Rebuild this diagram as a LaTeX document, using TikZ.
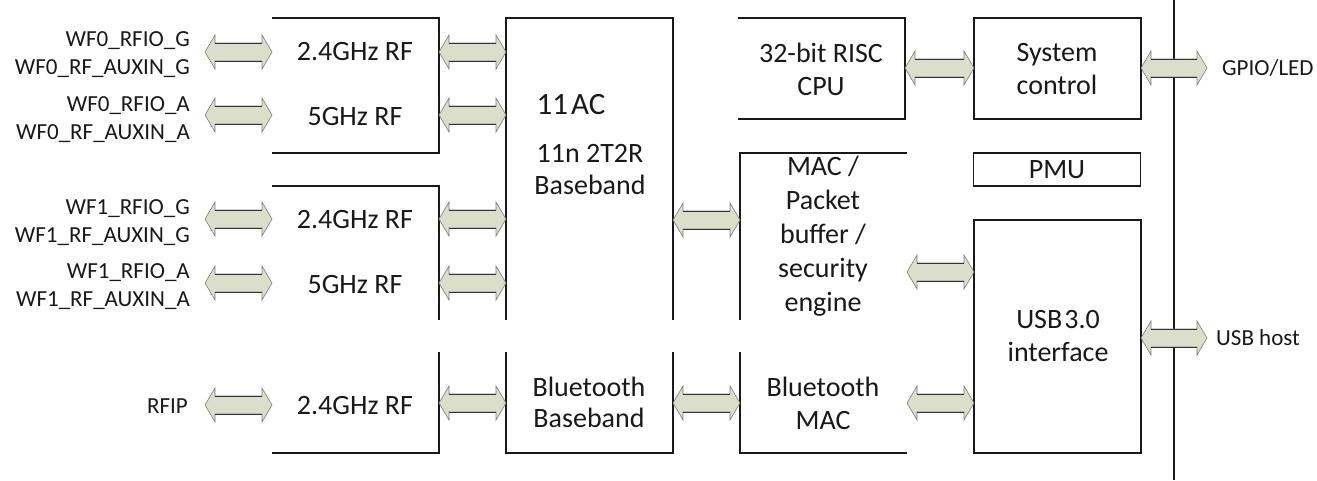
\documentclass[tikz,border=0pt]{standalone}
\usepackage{fontspec}
\setmainfont{Carlito}
\usetikzlibrary{calc}
\definecolor{arrfill}{RGB}{218,222,203}
\definecolor{arrhead}{RGB}{125,125,115}
\definecolor{ink}{RGB}{25,25,25}
\tikzset{
  frame/.style={inner sep=0pt, outer sep=0pt, draw=none},
  edge/.style={draw=ink, line width=1.2pt},
  boxtxt/.style={inner sep=0pt, align=center, text=ink, font=\fontsize{28}{33}\selectfont},
  smalltxt/.style={inner sep=0pt, text=ink, font=\fontsize{23}{28}\selectfont},
}
\newcommand\barr[3]{%
  \fill[arrfill, draw=arrhead, line width=0.6pt] let \p1=(#1), \p2=(#2), \p3=(0,#3) in
    (\x1,\y3) -- ({\x1+10pt},{\y3+17pt}) -- ({\x1+10pt},{\y3+9pt}) -- ({\x2-10pt},{\y3+9pt})
    -- ({\x2-10pt},{\y3+17pt}) -- (\x2,\y3) -- ({\x2-10pt},{\y3-17pt}) -- ({\x2-10pt},{\y3-9pt})
    -- ({\x1+10pt},{\y3-9pt}) -- ({\x1+10pt},{\y3-17pt}) -- cycle;
  \draw[black!80, line width=1pt] let \p1=(#1), \p2=(#2), \p3=(0,#3) in
    ({\x1+10pt},{\y3+9pt}) -- ({\x2-10pt},{\y3+9pt})
    ({\x1+10pt},{\y3-9pt}) -- ({\x2-10pt},{\y3-9pt});
}
\begin{document}
\begin{tikzpicture}[x=1pt, y=-1pt]
\useasboundingbox (0,0) rectangle (1317,480);
\fill[white] (0,0) rectangle (1317,480);

% box frames (invisible nodes)
\node[frame, minimum width=167pt, minimum height=135pt] (rf1) at (355.5,85.5) {};
\node[frame, minimum width=167pt, minimum height=134pt] (rf2) at (355.5,253) {};
\node[frame, minimum width=167pt, minimum height=101pt] (rf3) at (355.5,402.5) {};
\node[frame, minimum width=167pt, minimum height=302pt] (bb) at (589.5,169) {};
\node[frame, minimum width=167pt, minimum height=101pt] (btbb) at (589.5,402.5) {};
\node[frame, minimum width=167pt, minimum height=101pt] (cpu) at (821.5,68.5) {};
\node[frame, minimum width=167pt, minimum height=167pt] (mac) at (823.5,236.5) {};
\node[frame, minimum width=167pt, minimum height=101pt] (btmac) at (823.5,402.5) {};
\node[frame, minimum width=167pt, minimum height=101pt] (sys) at (1057.5,68.5) {};
\node[frame, minimum width=167pt, minimum height=33pt] (pmu) at (1057,169.5) {};
\node[frame, minimum width=167pt, minimum height=233pt] (usb) at (1057.5,336.5) {};
\coordinate (bustop) at (1174,0);
\coordinate (busbot) at (1174,480);

% visible edges
\draw[edge] (rf1.north west) -- (rf1.north east) -- (rf1.south east) -- (rf1.south west);
\draw[edge] (rf2.north west) -- (rf2.north east) -- (rf2.south east);
\draw[edge] (rf3.north east) -- (rf3.south east) -- (rf3.south west);
\draw[edge] (bb.south west) -- (bb.north west) -- (bb.north east) -- (bb.south east);
\draw[edge] (btbb.north west) -- (btbb.south west) -- (btbb.south east) -- (btbb.north east);
\draw[edge] (cpu.north west) -- (cpu.north east) -- (cpu.south east) -- (cpu.south west);
\draw[edge] (mac.north east) -- (mac.north west) -- (mac.south west);
\draw[edge] (btmac.north west) -- (btmac.south west) -- (btmac.south east);
\draw[edge] (sys.north west) rectangle (sys.south east);
\draw[edge] (pmu.north west) rectangle (pmu.south east);
\draw[edge] (usb.north west) rectangle (usb.south east);
\draw[edge] (bustop) -- (busbot);

% box texts
\node[boxtxt] (t1) at (355,52) {2.4GHz RF};
\node[boxtxt] (t2) at (355,117) {5GHz RF};
\node[boxtxt] (t3) at (355,220) {2.4GHz RF};
\node[boxtxt] (t4) at (355,285) {5GHz RF};
\node[boxtxt] (t5) at (355,406) {2.4GHz RF};
\node[boxtxt, font=\fontsize{31}{36}\selectfont] (t6) at (571,105) {11\kern3pt AC};
\node[boxtxt, font=\fontsize{28}{32}\selectfont] (t7) at (590,170) {11n 2T2R\\Baseband};
\node[boxtxt, font=\fontsize{28}{31}\selectfont] (t8) at (589,402) {Bluetooth\\Baseband};
\node[boxtxt] (t9) at (821,69) {32-bit RISC\\CPU};
\node[boxtxt, font=\fontsize{28}{34}\selectfont] (t10) at (823,236) {MAC /\\Packet\\buffer /\\security\\engine};
\node[boxtxt] (t11) at (823,403) {Bluetooth\\MAC};
\node[boxtxt] (t12) at (1057,69) {System\\control};
\node[boxtxt] (t13) at (1057,170) {PMU};
\node[boxtxt] (t14) at (1058,336) {USB\kern2pt3.0\\interface};

% side labels
\node[smalltxt, anchor=east, align=right] (l1) at (190,55) {WF0\_RFIO\_G\\WF0\_RF\_AUXIN\_G};
\node[smalltxt, anchor=east, align=right] (l2) at (190,120) {WF0\_RFIO\_A\\WF0\_RF\_AUXIN\_A};
\node[smalltxt, anchor=east, align=right] (l3) at (190,223) {WF1\_RFIO\_G\\WF1\_RF\_AUXIN\_G};
\node[smalltxt, anchor=east, align=right] (l4) at (190,287) {WF1\_RFIO\_A\\WF1\_RF\_AUXIN\_A};
\node[smalltxt, anchor=east] (l5) at (188,406) {RFIP};
\node[smalltxt, anchor=west] (gpio) at (1222,68) {GPIO/LED};
\node[smalltxt, anchor=west] (host) at (1216,338) {USB host};

% arrows
\barr{$(l1.east)+(15,0)$}{rf1.west}{52}
\barr{$(l2.east)+(15,0)$}{rf1.west}{115}
\barr{$(l3.east)+(15,0)$}{rf2.west}{219}
\barr{$(l4.east)+(15,0)$}{rf2.west}{283}
\barr{$(l5.east)+(17,0)$}{rf3.west}{405}
\barr{rf1.east}{bb.west}{52}
\barr{rf1.east}{bb.west}{115}
\barr{rf2.east}{bb.west}{219}
\barr{rf2.east}{bb.west}{283}
\barr{rf3.east}{btbb.west}{403}
\barr{bb.east}{mac.west}{220}
\barr{btbb.east}{btmac.west}{403}
\barr{cpu.east}{sys.west}{68}
\barr{mac.east}{usb.west}{272}
\barr{btmac.east}{usb.west}{403}
\barr{sys.east}{$(gpio.west)+(-15,0)$}{68}
\barr{usb.east}{$(host.west)+(-9,0)$}{338}
\end{tikzpicture}
\end{document}
